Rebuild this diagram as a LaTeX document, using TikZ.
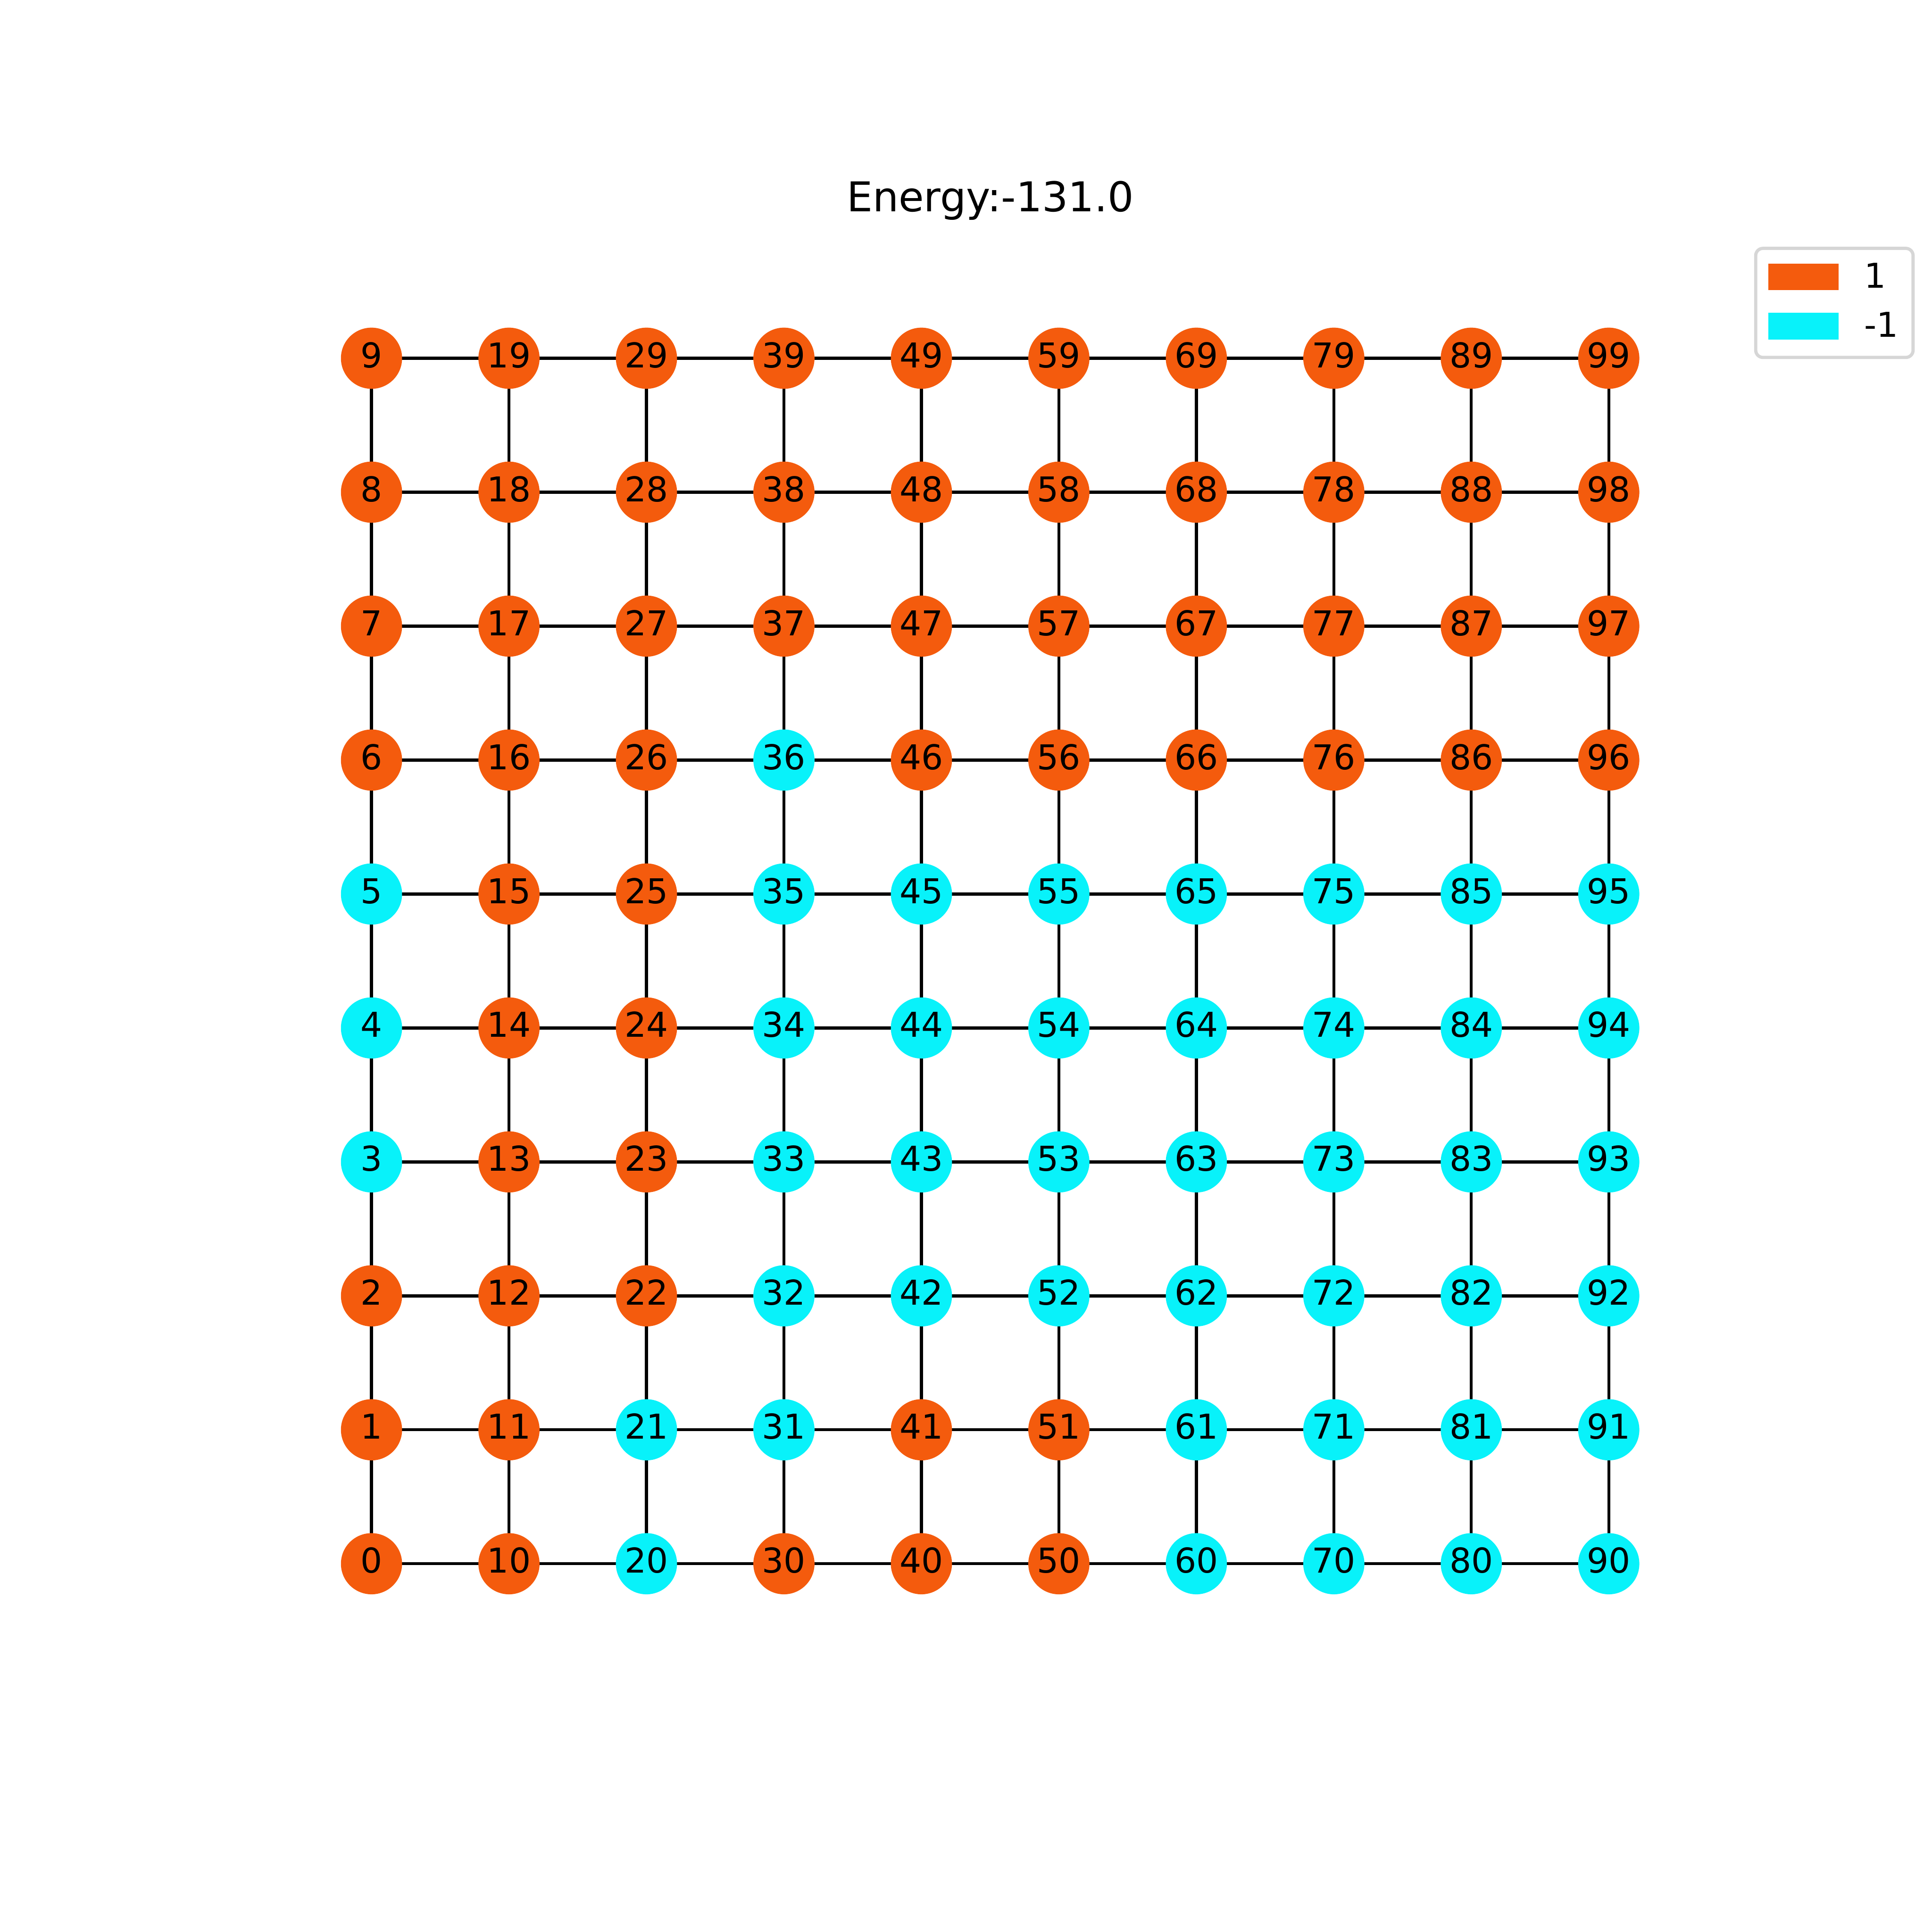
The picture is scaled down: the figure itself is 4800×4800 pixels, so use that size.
\documentclass[tikz,border=0pt]{standalone}
\usepackage{fontspec}
\setmainfont{DejaVu Sans}
\definecolor{spinup}{RGB}{244,91,13}
\definecolor{spindown}{RGB}{8,242,250}
\definecolor{legframe}{RGB}{214,214,214}
\tikzset{
  spin/.style={circle, inner sep=0pt, minimum size=15.2pt, text height=6.2pt, text depth=1.6pt, font=\fontsize{8.5pt}{9pt}\selectfont},
  spinu/.style={spin, fill=spinup},
  spind/.style={spin, fill=spindown},
  bond/.style={line width=0.75pt, black},
}
\pgfdeclarelayer{bg}\pgfsetlayers{bg,main}
\begin{document}
\begin{tikzpicture}[x=0.1pt,y=-0.1pt]
\useasboundingbox (0,0) rectangle (4800,4800);
\def\statelist{%
0/0/u,0/1/u,0/2/u,0/3/d,0/4/d,0/5/d,0/6/u,0/7/u,0/8/u,0/9/u,%
1/0/u,1/1/u,1/2/u,1/3/u,1/4/u,1/5/u,1/6/u,1/7/u,1/8/u,1/9/u,%
2/0/d,2/1/d,2/2/u,2/3/u,2/4/u,2/5/u,2/6/u,2/7/u,2/8/u,2/9/u,%
3/0/u,3/1/d,3/2/d,3/3/d,3/4/d,3/5/d,3/6/d,3/7/u,3/8/u,3/9/u,%
4/0/u,4/1/u,4/2/d,4/3/d,4/4/d,4/5/d,4/6/u,4/7/u,4/8/u,4/9/u,%
5/0/u,5/1/u,5/2/d,5/3/d,5/4/d,5/5/d,5/6/u,5/7/u,5/8/u,5/9/u,%
6/0/d,6/1/d,6/2/d,6/3/d,6/4/d,6/5/d,6/6/u,6/7/u,6/8/u,6/9/u,%
7/0/d,7/1/d,7/2/d,7/3/d,7/4/d,7/5/d,7/6/u,7/7/u,7/8/u,7/9/u,%
8/0/d,8/1/d,8/2/d,8/3/d,8/4/d,8/5/d,8/6/u,8/7/u,8/8/u,8/9/u,%
9/0/d,9/1/d,9/2/d,9/3/d,9/4/d,9/5/d,9/6/u,9/7/u,9/8/u,9/9/u}
% nodes
\foreach \i/\j/\s in \statelist{
  \pgfmathtruncatemacro{\n}{10*\i+\j}
  \node[spin\s] (n\i\j) at ({923+341.55*\i},{3885-332.78*\j}) {\n};
}
% bonds
\begin{pgfonlayer}{bg}
\foreach \i in {0,...,9}{
  \foreach \j [evaluate=\j as \jn using int(\j+1)] in {0,...,8}{
    \draw[bond] (n\i\j.center) -- (n\i\jn.center);
    \draw[bond] (n\j\i.center) -- (n\jn\i.center);
  }
}
\end{pgfonlayer}
% title
\node[anchor=base, inner sep=0pt, font=\fontsize{10.2pt}{12pt}\selectfont] (title) at (2460,525) {Energy:-131.0};
% legend
\draw[legframe, fill=white, line width=0.8pt, rounded corners=1.8pt] (4362,617) rectangle (4753,888);
\node[fill=spinup, inner sep=0pt, minimum width=17.5pt, minimum height=6.6pt, anchor=north west] (legup) at (4391,653) {};
\node[fill=spindown, inner sep=0pt, minimum width=17.5pt, minimum height=6.7pt, anchor=north west] (legdown) at (4391,775) {};
\node[anchor=base west, inner sep=0pt, font=\fontsize{8.5pt}{9pt}\selectfont] (legupt) at (4630,715) {1};
\node[anchor=base west, inner sep=0pt, font=\fontsize{8.5pt}{9pt}\selectfont] (legdownt) at (4630,837) {-1};
\end{tikzpicture}
\end{document}
